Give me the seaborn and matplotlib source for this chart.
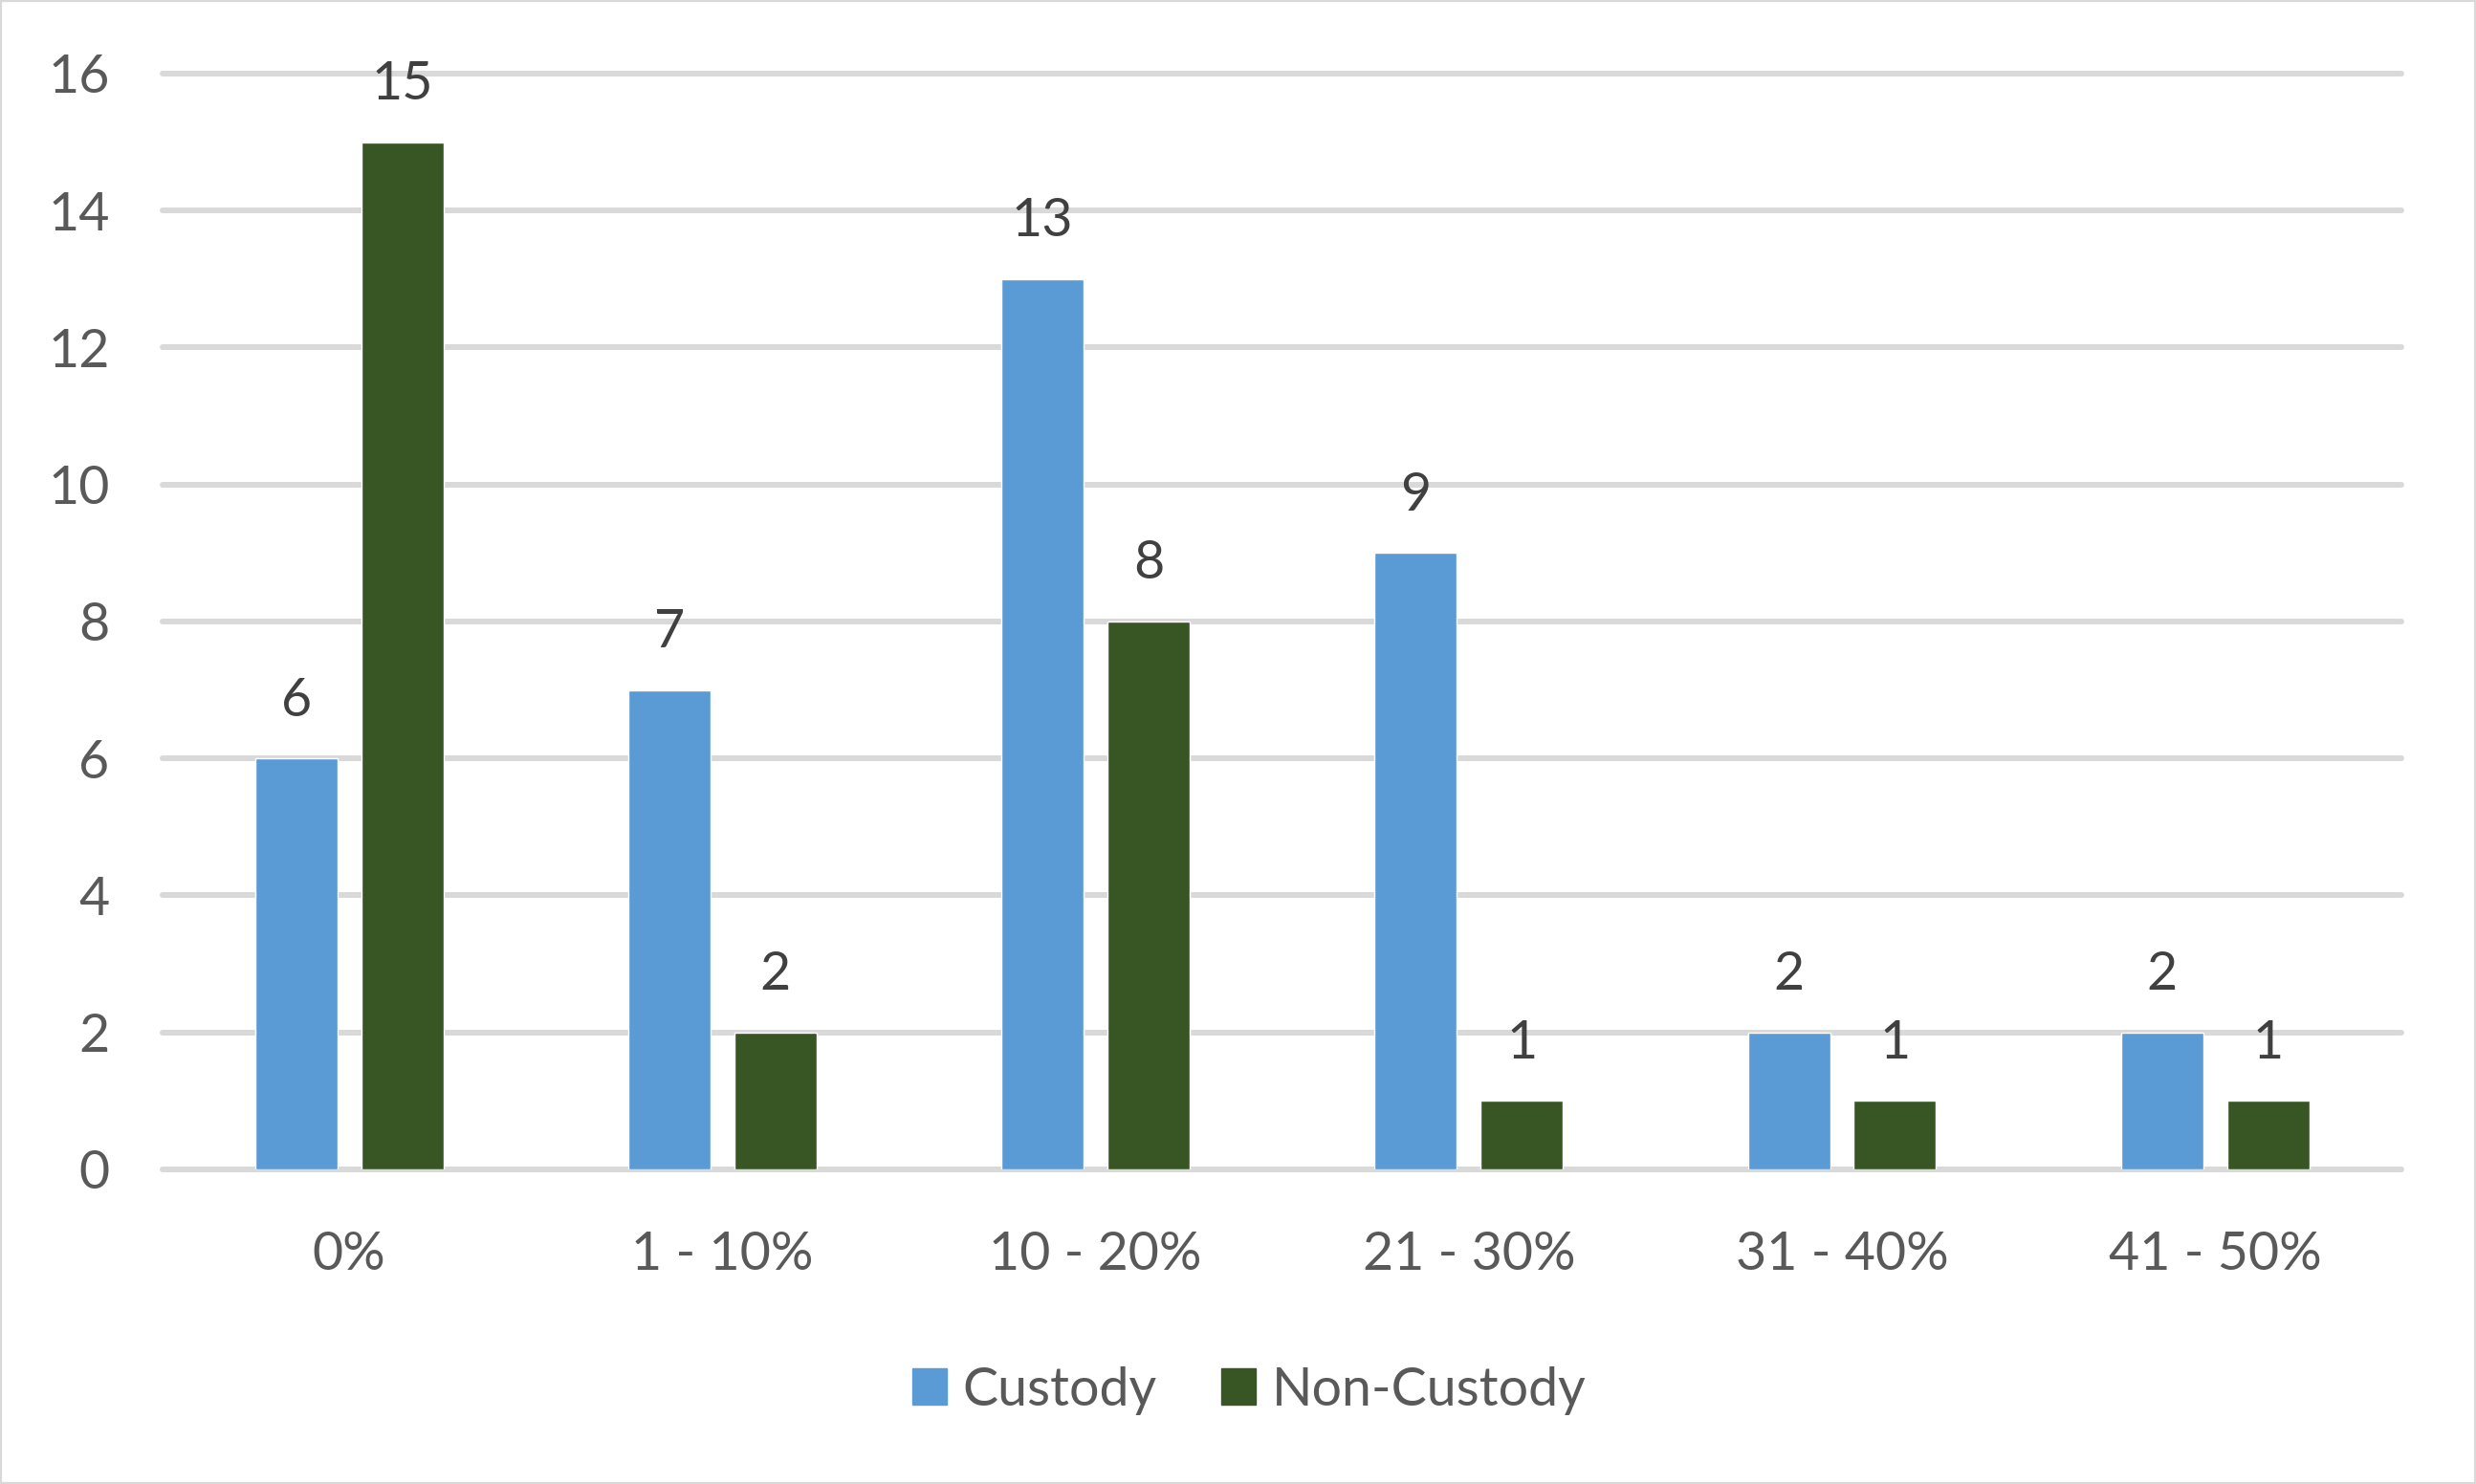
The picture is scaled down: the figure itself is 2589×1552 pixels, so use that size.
import matplotlib
matplotlib.use("Agg")
import matplotlib.pyplot as plt
import seaborn as sns
import pandas as pd
from matplotlib.patches import Rectangle

categories = ["0%", "1 - 10%", "10 - 20%", "21 - 30%", "31 - 40%", "41 - 50%"]
custody = [6, 7, 13, 9, 2, 2]
non_custody = [15, 2, 8, 1, 1, 1]
series = ["Custody", "Non-Custody"]
y_ticks = [0, 2, 4, 6, 8, 10, 12, 14, 16]

colors = {"Custody": "#5B9BD5", "Non-Custody": "#375623"}

df = pd.DataFrame({
    "category": categories * 2,
    "value": custody + non_custody,
    "series": [series[0]] * len(categories) + [series[1]] * len(categories),
})

sns.set_theme(style="white")
plt.rcParams["font.family"] = ["Lato", "DejaVu Sans"]

fig = plt.figure(figsize=(25.89, 15.52), dpi=100)
ax = fig.add_axes([0.0657, 0.212, 0.9043, 0.7384])

sns.barplot(
    data=df, x="category", y="value", hue="series",
    order=categories, hue_order=series, palette=colors,
    width=0.568, gap=0.225, saturation=1, ax=ax, legend=True,
)

for cont in ax.containers:
    ax.bar_label(cont, padding=25, fontsize=40, color="#404040")

ax.set_ylim(0, 16)
ax.set_yticks(y_ticks)
ax.set_xlim(-0.5, len(categories) - 0.5)
ax.set_xlabel("")
ax.set_ylabel("")
ax.set_axisbelow(True)
ax.yaxis.grid(True, color="#D9D9D9", linewidth=4.3)
for gl in ax.get_ygridlines():
    gl.set_clip_on(False)
ax.xaxis.grid(False)
sns.despine(ax=ax, left=True, bottom=True, top=True, right=True)
ax.tick_params(axis="y", length=0, pad=40, labelsize=40, labelcolor="#595959")
ax.tick_params(axis="x", length=0, pad=46, labelsize=40, labelcolor="#595959")

ax.get_legend().remove()
handles = [Rectangle((0, 0), 1, 1, color=colors[s]) for s in series]
leg = fig.legend(
    handles, series, loc="center", bbox_to_anchor=(0.5045, 0.063), ncol=2,
    frameon=False, fontsize=40, handlelength=0.65, handleheight=0.68,
    handletextpad=0.3, columnspacing=1.22,
)
for t in leg.get_texts():
    t.set_color("#595959")

fig.patches.append(Rectangle((0, 0), 1, 1, transform=fig.transFigure,
                             fill=False, edgecolor="#D9D9D9", linewidth=3))

fig.savefig("out.png", dpi=100)
